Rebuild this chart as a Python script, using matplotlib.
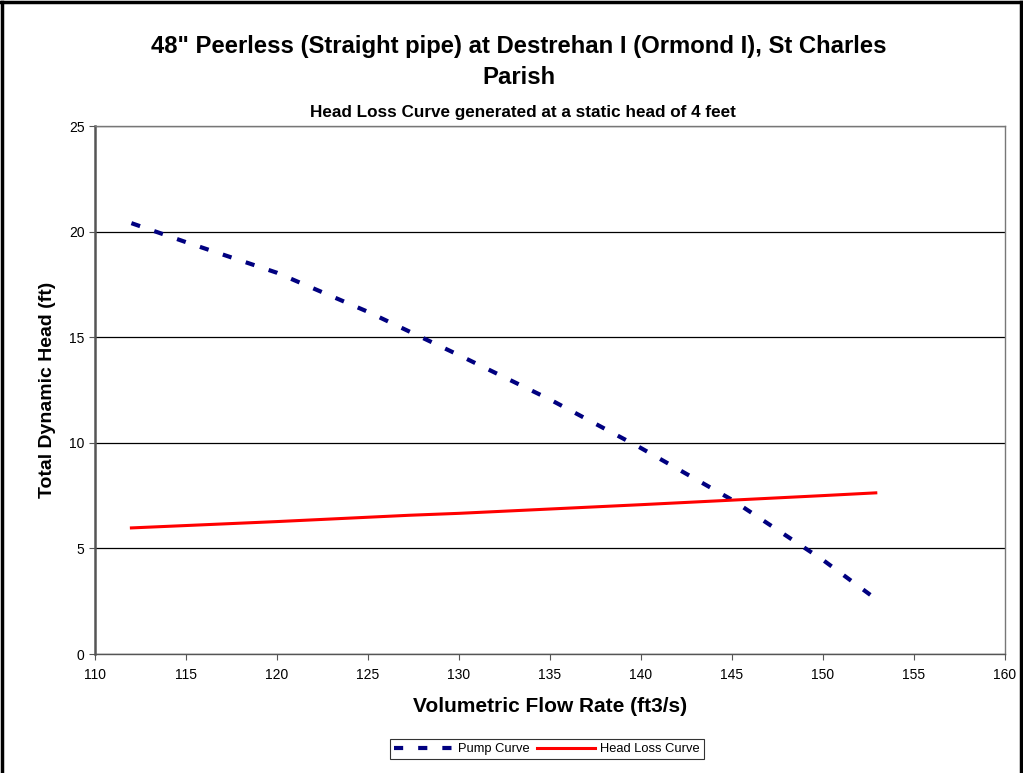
import matplotlib
matplotlib.use("Agg")
import matplotlib.pyplot as plt
from matplotlib.lines import Line2D

plt.rcParams['font.family'] = ['Liberation Sans', 'DejaVu Sans']

# Pump curve (flow ft3/s, head ft)
pump_flow = [112, 115, 120, 125, 130, 135, 140, 145, 150, 152.6]
pump_head = [20.4, 19.5, 18.05, 16.2, 14.15, 12.05, 9.75, 7.3, 4.45, 2.8]

# Head loss curve
loss_flow = [112, 120, 127.3, 130, 140, 150, 152.9]
loss_head = [5.97, 6.27, 6.57, 6.66, 7.07, 7.5, 7.63]

title = '48" Peerless (Straight pipe) at Destrehan I (Ormond I), St Charles\nParish'
subtitle = 'Head Loss Curve generated at a static head of 4 feet'

fig = plt.figure(figsize=(10.23, 7.73), dpi=100)
ax = fig.add_axes([95/1023, 1 - 654/773, 910/1023, 528/773])

ax.plot(pump_flow, pump_head, color='#000080', linewidth=3,
        linestyle=(0, (2.2, 3.6)), dash_capstyle='butt', label='Pump Curve')
ax.plot(loss_flow, loss_head, color='#ff0000', linewidth=2.2, label='Head Loss Curve')

ax.set_xlim(110, 160)
ax.set_ylim(0, 25)
ax.set_xticks(range(110, 161, 5))
ax.set_yticks(range(0, 26, 5))
ax.tick_params(labelsize=10, length=4, width=0.8, colors='#555555', labelcolor='black')
ax.tick_params(axis='x', pad=6)
ax.yaxis.grid(True, color='black', linewidth=0.9)
ax.set_axisbelow(True)
for s in ax.spines.values():
    s.set_color('#777777')
    s.set_linewidth(1.0)
ax.spines['left'].set_linewidth(1.8)
ax.spines['left'].set_color('#555555')
ax.spines['bottom'].set_color('#555555')

ax.set_xlabel('Volumetric Flow Rate (ft3/s)', fontsize=15, fontweight='bold', labelpad=11)
ax.set_ylabel('Total Dynamic Head (ft)', fontsize=14, fontweight='bold', labelpad=9)

fig.text(519/1023, 1 - 62/773, title, ha='center', va='center', fontsize=17.2,
         fontweight='bold', linespacing=1.4)
fig.text(523/1023, 1 - 112/773, subtitle, ha='center', va='center', fontsize=12.3,
         fontweight='bold')

leg = fig.legend(loc='center', bbox_to_anchor=(547/1023, 1 - 749/773), ncol=2,
                 fontsize=9.3, frameon=True, fancybox=False, edgecolor='black',
                 handlelength=4.5, columnspacing=0.6, handletextpad=0.4,
                 borderpad=0.3)
leg.get_frame().set_linewidth(0.8)

# outer border
for xs, ys in [([0.002, 0.002], [0, 0.998]), ([0, 1], [0.997, 0.997]),
               ([0.998, 0.998], [0, 0.998])]:
    fig.add_artist(Line2D(xs, ys, color='black', linewidth=2.5,
                          transform=fig.transFigure))

fig.savefig('out.png', dpi=100)
